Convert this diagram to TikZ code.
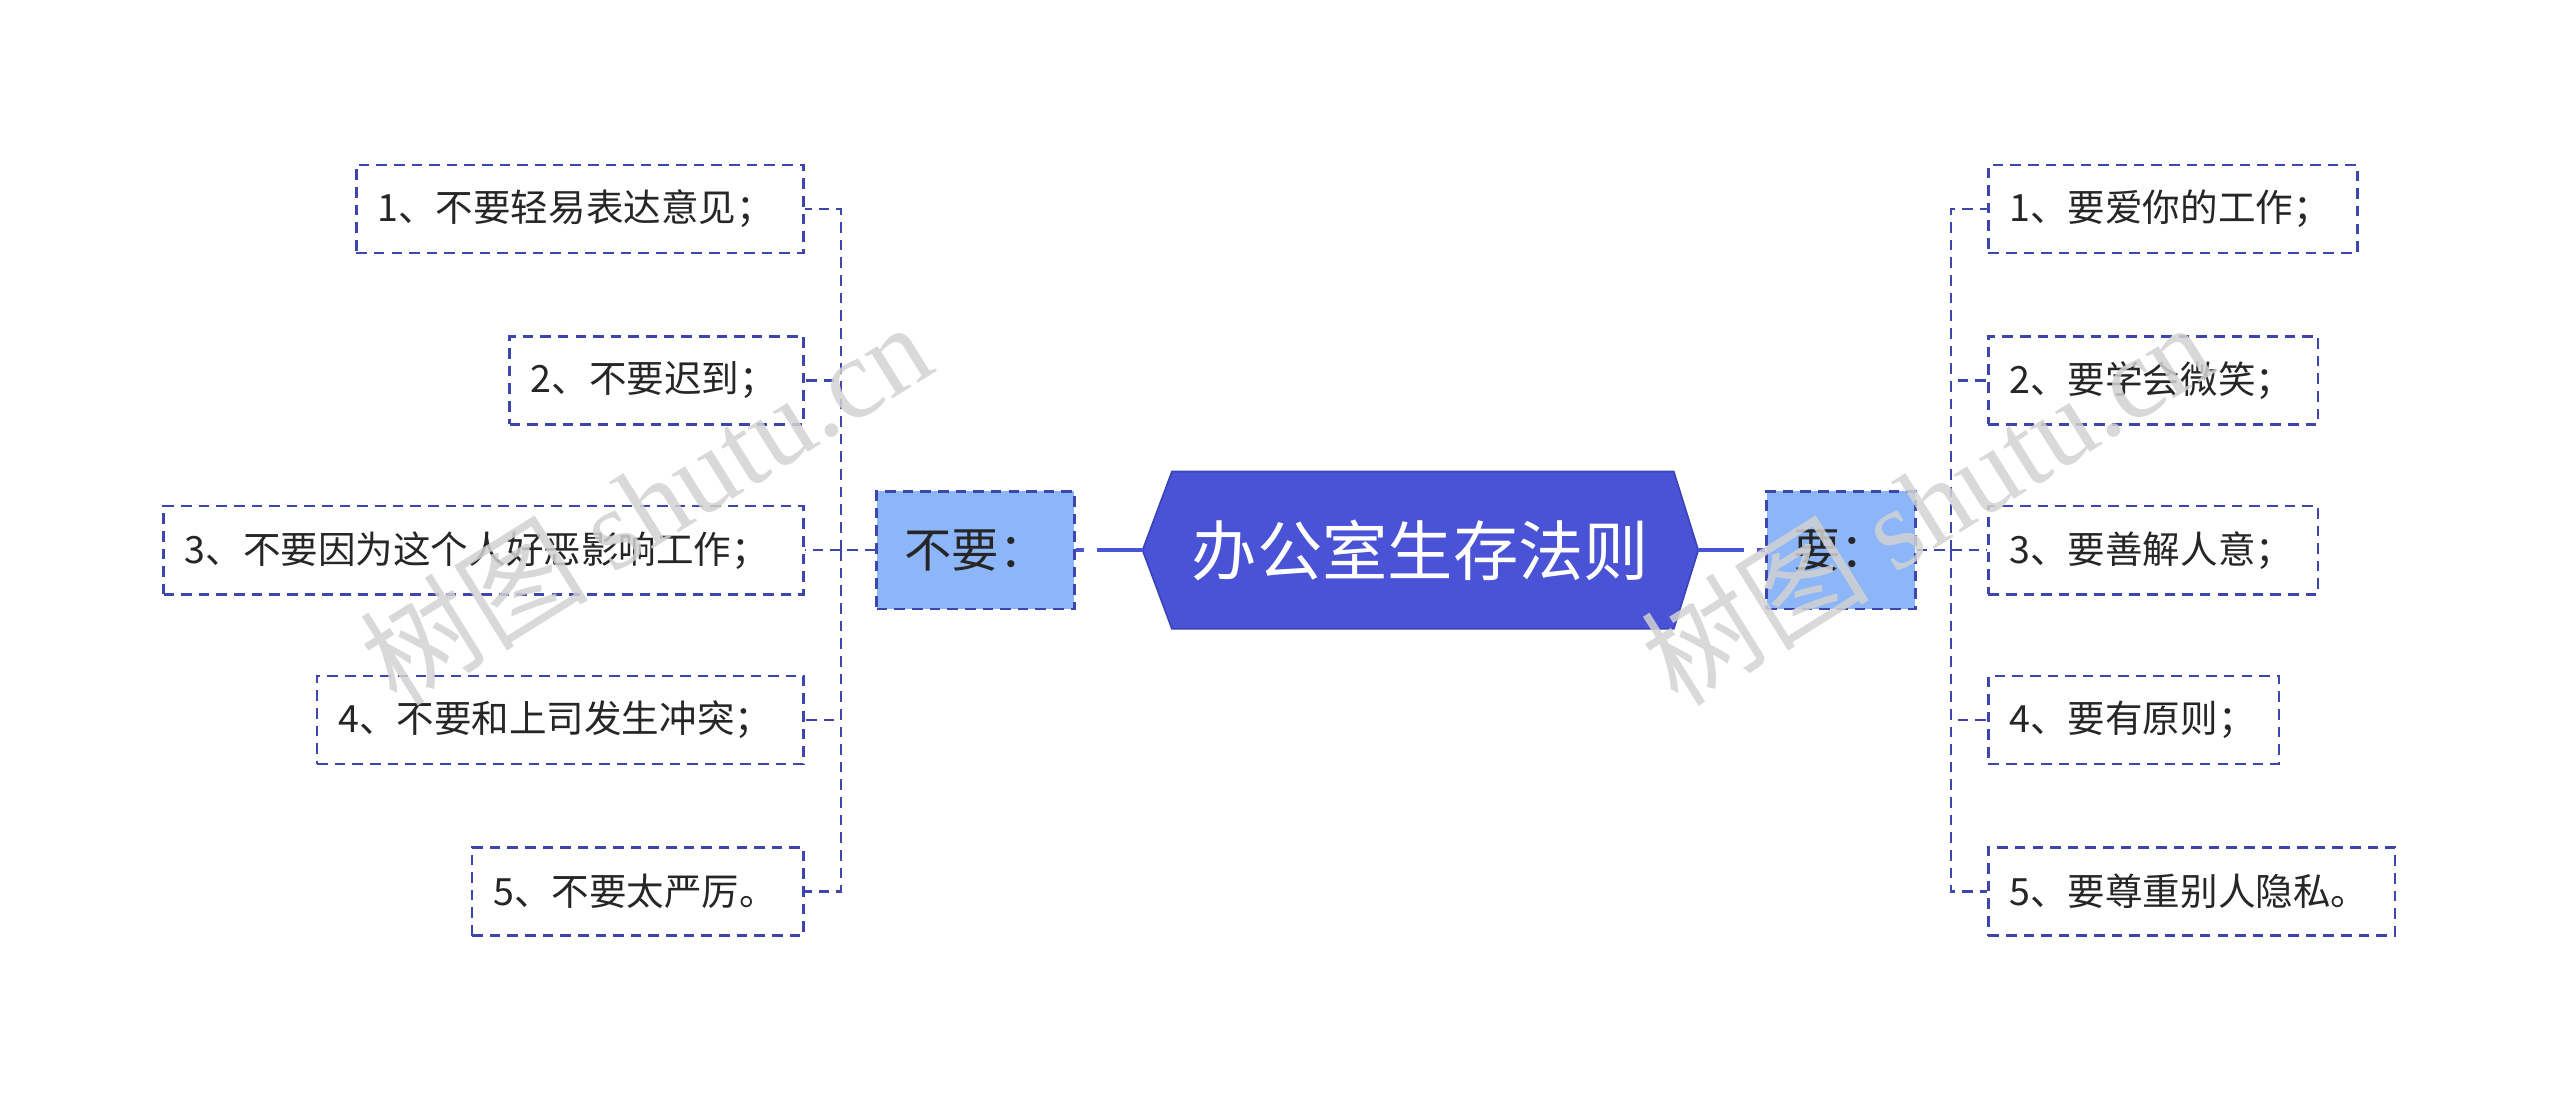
\documentclass[tikz,border=0pt]{standalone}
\usepackage{fontspec}
\setmainfont{Noto Sans CJK SC}
\newfontfamily\wmserif{Liberation Serif}
\usetikzlibrary{backgrounds}
\definecolor{hexfill}{HTML}{4A52D6}
\definecolor{hexline}{HTML}{3B43B8}
\definecolor{brfill}{HTML}{8DB6F9}
\definecolor{dashblue}{HTML}{3E46AE}
\definecolor{txt}{HTML}{262626}
\definecolor{wmgray}{HTML}{D2D2D2}
\begin{document}
\begin{tikzpicture}[x=1pt,y=-1pt,
  leaf/.style={draw=dashblue, line width=1.6pt, dash pattern=on 6.5pt off 4.3pt,
    fill=white, minimum height=54pt, inner xsep=13pt, inner ysep=0pt,
    align=left, text=txt, font=\fontsize{23}{27}\selectfont},
  branchbox/.style={draw=dashblue, line width=1.8pt, dash pattern=on 6.5pt off 4.3pt,
    fill=brfill, minimum height=72pt, inner sep=0pt, text=txt,
    font=\fontsize{29}{34}\selectfont},
  centerbox/.style={minimum width=340pt, minimum height=96pt, inner sep=0pt,
    text=white, font=\fontsize{40}{46}\selectfont},
  mainconn/.style={draw=hexfill, line width=2.4pt, dash pattern=on 28pt off 8pt on 6pt off 20pt},
  conn/.style={draw=dashblue, line width=1.5pt, dash pattern=on 6.5pt off 4.3pt},
  wm/.style={text=wmgray, opacity=0.85, font=\fontsize{70}{80}\selectfont, inner sep=0pt}
]
\useasboundingbox (0,0) rectangle (1568,674.3);

% central node
\node[centerbox] (c) at (870,337) {办公室生存法则};
\begin{scope}[on background layer]
\draw[hexline, fill=hexfill, line width=1pt]
  (c.west) -- ([xshift=18pt]c.north west) -- ([xshift=-15pt]c.north east)
  -- (c.east) -- ([xshift=-15pt]c.south east) -- ([xshift=18pt]c.south west) -- cycle;
\end{scope}

% branches
\node[branchbox, minimum width=121pt] (lb) at (597.5,337) {不要：};
\node[branchbox, minimum width=91pt] (rb) at (1127.5,337) {要：};

\draw[mainconn] (c.west) -- (lb.east);
\draw[mainconn] (c.east) -- (rb.west);

% left leaves
\node[leaf, text width=248pt, anchor=east] (l1) at (493,128) {1、不要轻易表达意见；};
\node[leaf, text width=154pt, anchor=east] (l2) at (493,233) {2、不要迟到；};
\node[leaf, text width=366pt, anchor=east] (l3) at (493,337) {3、不要因为这个人好恶影响工作；};
\node[leaf, text width=272pt, anchor=east] (l4) at (493,441) {4、不要和上司发生冲突；};
\node[leaf, text width=177pt, anchor=east] (l5) at (493,546) {5、不要太严厉。};

% right leaves
\node[leaf, text width=200pt, anchor=west] (r1) at (1217,128) {1、要爱你的工作；};
\node[leaf, text width=176pt, anchor=west] (r2) at (1217,233) {2、要学会微笑；};
\node[leaf, text width=176pt, anchor=west] (r3) at (1217,337) {3、要善解人意；};
\node[leaf, text width=152pt, anchor=west] (r4) at (1217,441) {4、要有原则；};
\node[leaf, text width=223pt, anchor=west] (r5) at (1217,546) {5、要尊重别人隐私。};

% left bracket
\coordinate (lj) at (515,337);
\draw[conn] (lb.west) -- (lj);
\foreach \n in {l1,l2,l3,l4,l5} {\draw[conn] (lj) |- (\n.east);}

% right bracket
\coordinate (rj) at (1195,337);
\draw[conn] (rb.east) -- (rj);
\foreach \n in {r1,r2,r3,r4,r5} {\draw[conn] (rj) |- (\n.west);}

% watermarks
\node[wm, rotate=32] (w1) at (395,308) {树图 {\wmserif shutu.cn}};
\node[wm, rotate=32] (w2) at (1180,308) {树图 {\wmserif shutu.cn}};
\end{tikzpicture}
\end{document}
